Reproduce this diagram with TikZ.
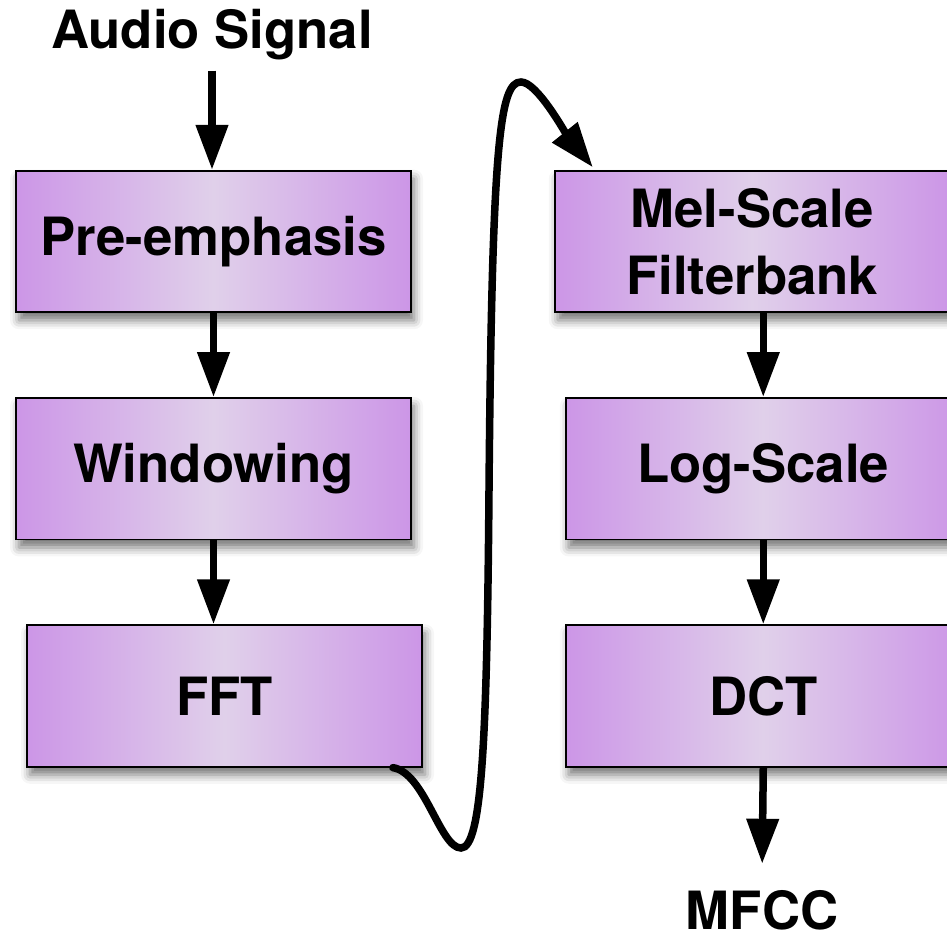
\documentclass[tikz,border=0pt]{standalone}
\usepackage{fontspec}
\setmainfont{TeX Gyre Heros}
\usetikzlibrary{positioning,arrows.meta,shadows.blur}
\definecolor{boxedge}{RGB}{204,150,231}
\definecolor{boxmid}{RGB}{224,208,234}
\tikzstyle{stage box}=[draw=black, line width=1pt, left color=boxedge, right color=boxedge, middle color=boxmid, minimum width=7.9cm, minimum height=2.83cm, align=center, font=\fontsize{30}{38}\selectfont\bfseries, blur shadow={shadow xshift=0.06cm, shadow yshift=-0.16cm, shadow blur radius=0.18cm, shadow opacity=55}]
\tikzstyle{end label}=[font=\fontsize{30}{36}\selectfont\bfseries, inner sep=0.2cm]
\tikzstyle{flow}=[line width=0.15cm, -{Triangle[length=0.9cm, width=0.62cm]}]

\begin{document}
\begin{tikzpicture}[node distance=1.68cm]
\useasboundingbox (0,0) rectangle (18.94,18.8);
\clip (0,0) rectangle (18.94,18.8);
%
  \node[end label] (audio) at (4.24,18.1) {Audio Signal};
  \node[stage box] (pre) at (4.27,13.97) {Pre-emphasis};
  \node[stage box, below=of pre] (win) {Windowing};
  \node[stage box, below=of win, xshift=0.22cm] (fft) {FFT};
%
  \node[stage box, right=2.84cm of pre] (mel) {Mel-Scale\\Filterbank};
  \node[stage box, below=of mel, xshift=0.22cm] (log) {Log-Scale};
  \node[stage box, below=of log] (dct) {DCT};
  \node[end label] (mfcc) at (15.24,0.6) {MFCC};
%
  \coordinate (fftout) at ([xshift=-0.6cm]fft.south east);
  \coordinate (dip) at (9.22,1.84);
  \coordinate (rise) at (9.78,9.0);
  \coordinate (peak) at (10.42,17.16);
  \coordinate (melin) at ([xshift=0.78cm, yshift=0.05cm]mel.north west);
%
  \draw[flow] (audio.south) -- (audio.south |- pre.north);
  \draw[flow] (pre.south) -- (pre.south |- win.north);
  \draw[flow] (win.south) -- (win.south |- fft.north);
  \draw[flow, line cap=round] (fftout) .. controls +(0.64,-0.1) and +(-0.42,0) .. (dip)
      .. controls +(0.42,0) and +(-0.04,-5.0) .. (rise)
      .. controls +(0.06,7.0) and +(-0.42,0) .. (peak)
      .. controls +(0.32,0) and +(-0.56,0.7) .. (melin);
  \draw[flow] (log.north |- mel.south) -- (log.north);
  \draw[flow] (log.south) -- (dct.north);
  \draw[flow, shorten >=0.32cm] (dct.south) -- (mfcc.north);
%
\end{tikzpicture}
\end{document}
